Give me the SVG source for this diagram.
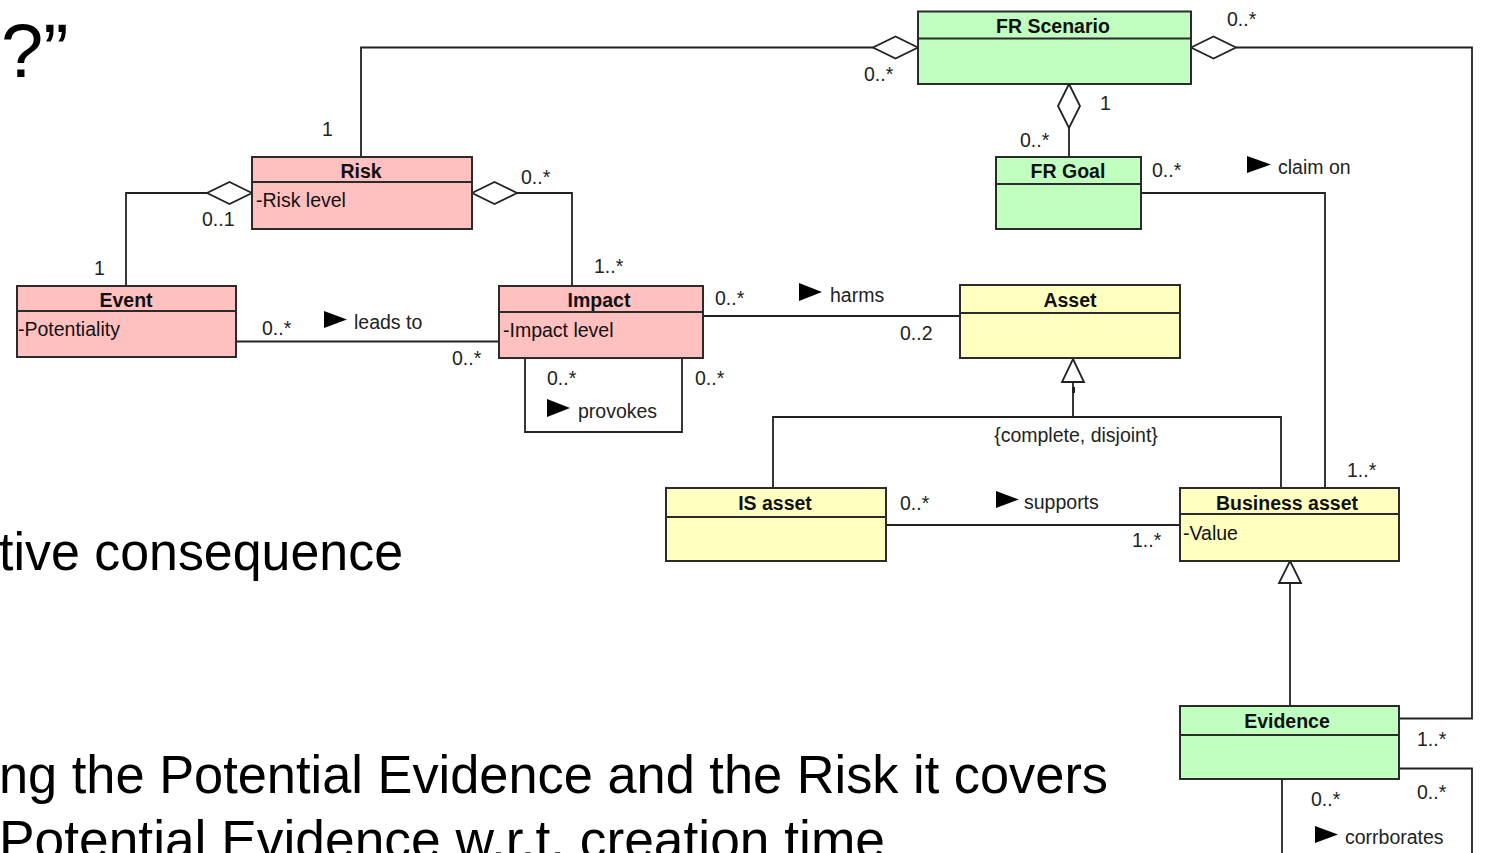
<svg xmlns="http://www.w3.org/2000/svg" width="1486" height="853" viewBox="0 0 1486 853">
  <style>
    .bg { font-family: "Liberation Sans", Arial, sans-serif; fill: #000; }
    .box { stroke: #2b2b2b; stroke-width: 2; }
    .pink { fill: #ffc0c0; }
    .green { fill: #c0ffc0; }
    .yellow { fill: #ffffc0; }
    .div { stroke: #2b2b2b; stroke-width: 2; fill: none; }
    .title { font-family: "Liberation Sans", Arial, sans-serif; font-size: 19.5px; font-weight: bold; fill: #111; text-anchor: middle; }
    .attr { font-family: "Liberation Sans", Arial, sans-serif; font-size: 19.5px; fill: #111; }
    .lbl { font-family: "Liberation Sans", Arial, sans-serif; font-size: 19.5px; fill: #222; }
    .wire { stroke: #222; stroke-width: 1.8; fill: none; }
    .agg { stroke: #222; stroke-width: 1.8; fill: #fff; stroke-linejoin: miter; }
    .gen { stroke: #222; stroke-width: 1.8; fill: #fff; }
    .dir { fill: #000; stroke: none; }
  </style>

  <rect width="1486" height="853" fill="#fff"/>

  <!-- slide text behind the model -->
  <g id="slide-text" class="bg">
    <text x="1" y="77" font-size="76">?”</text>
    <text x="-1" y="570" font-size="54" textLength="404" lengthAdjust="spacingAndGlyphs">tive consequence</text>
    <text x="-1" y="793" font-size="54" textLength="1109" lengthAdjust="spacingAndGlyphs">ng the Potential Evidence and the Risk it covers</text>
    <text x="-1" y="858" font-size="54" textLength="886" lengthAdjust="spacingAndGlyphs">Potential Evidence w.r.t. creation time</text>
  </g>

  <!-- associations, aggregations and generalizations -->
  <g id="connectors">
    <!-- FR Scenario <>- Risk -->
    <polyline class="wire" points="873,47.5 361,47.5 361,157"/>
    <polygon class="agg" points="918,47.5 895.5,36.5 873,47.5 895.5,58.5"/>
    <!-- FR Scenario <>- Evidence -->
    <polyline class="wire" points="1236,47.5 1472,47.5 1472,718.5 1399,718.5"/>
    <polygon class="agg" points="1191,47.5 1213.5,36.5 1236,47.5 1213.5,58.5"/>
    <!-- FR Scenario <>- FR Goal -->
    <line class="wire" x1="1069" y1="128" x2="1069" y2="157"/>
    <polygon class="agg" points="1069,84 1080,106 1069,128 1058,106"/>
    <!-- FR Goal claim on Business asset -->
    <polyline class="wire" points="1141,193 1325,193 1325,488"/>
    <!-- Risk <>- Event -->
    <polyline class="wire" points="207,193 126,193 126,286"/>
    <polygon class="agg" points="252,193 229.5,182 207,193 229.5,204"/>
    <!-- Risk <>- Impact -->
    <polyline class="wire" points="517,193 572,193 572,286"/>
    <polygon class="agg" points="472,193 494.5,182 517,193 494.5,204"/>
    <!-- Event leads to Impact -->
    <line class="wire" x1="236" y1="341.5" x2="499" y2="341.5"/>
    <!-- Impact provokes Impact -->
    <polyline class="wire" points="525,358 525,432 682,432 682,358"/>
    <!-- Impact harms Asset -->
    <line class="wire" x1="703" y1="316" x2="960" y2="316"/>
    <!-- IS asset / Business asset specialise Asset -->
    <line class="wire" x1="1073" y1="382" x2="1073" y2="417"/>
    <line x1="1073.5" y1="387" x2="1073.5" y2="393" stroke="#222" stroke-width="3"/>
    <polyline class="wire" points="773,488 773,417 1281,417 1281,488"/>
    <polygon class="gen" points="1073,359 1084,382 1062,382"/>
    <!-- IS asset supports Business asset -->
    <line class="wire" x1="886" y1="525" x2="1180" y2="525"/>
    <!-- Evidence specialises Business asset -->
    <line class="wire" x1="1290" y1="583" x2="1290" y2="706"/>
    <polygon class="gen" points="1290,561 1301,583 1279,583"/>
    <!-- Evidence corrborates Evidence -->
    <polyline class="wire" points="1399,768.5 1472,768.5 1472,860"/>
    <line class="wire" x1="1282" y1="779" x2="1282" y2="860"/>

    <!-- reading-direction triangles -->
    <polygon class="dir" points="1247,156 1271,164.5 1247,173"/>
    <polygon class="dir" points="324,311 347,319.5 324,328"/>
    <polygon class="dir" points="799,283 822,292 799,301"/>
    <polygon class="dir" points="547,399 570,408 547,417"/>
    <polygon class="dir" points="996,491 1019,499.5 996,508"/>
    <polygon class="dir" points="1315,826 1338,834.5 1315,843"/>

    <!-- names and multiplicities -->
    <g class="lbl">
      <text x="864" y="81">0..*</text>
      <text x="322" y="136">1</text>
      <text x="1227" y="26">0..*</text>
      <text x="1100" y="110">1</text>
      <text x="1020" y="147">0..*</text>
      <text x="1152" y="177">0..*</text>
      <text x="1278" y="174">claim on</text>
      <text x="1347" y="477">1..*</text>
      <text x="202" y="226">0..1</text>
      <text x="521" y="184">0..*</text>
      <text x="94" y="275">1</text>
      <text x="594" y="273">1..*</text>
      <text x="262" y="335">0..*</text>
      <text x="354" y="329">leads to</text>
      <text x="452" y="365">0..*</text>
      <text x="715" y="305">0..*</text>
      <text x="830" y="302">harms</text>
      <text x="900" y="340">0..2</text>
      <text x="547" y="385">0..*</text>
      <text x="578" y="418">provokes</text>
      <text x="695" y="385">0..*</text>
      <text x="1076" y="442" text-anchor="middle">{complete, disjoint}</text>
      <text x="900" y="510">0..*</text>
      <text x="1024" y="509">supports</text>
      <text x="1132" y="547">1..*</text>
      <text x="1417" y="746">1..*</text>
      <text x="1417" y="799">0..*</text>
      <text x="1311" y="806">0..*</text>
      <text x="1345" y="844">corrborates</text>
    </g>
  </g>

  <!-- classes -->
  <g id="fr-scenario">
    <rect class="box green" x="918" y="11.5" width="273" height="72.5"/>
    <line class="div" x1="918" y1="38.5" x2="1191" y2="38.5"/>
    <text class="title" x="1053" y="33">FR Scenario</text>
  </g>
  <g id="fr-goal">
    <rect class="box green" x="996" y="157" width="145" height="72"/>
    <line class="div" x1="996" y1="184" x2="1141" y2="184"/>
    <text class="title" x="1068" y="178">FR Goal</text>
  </g>
  <g id="risk">
    <rect class="box pink" x="252" y="157" width="220" height="72"/>
    <line class="div" x1="252" y1="182" x2="472" y2="182"/>
    <text class="title" x="361" y="178">Risk</text>
    <text class="attr" x="256" y="207">-Risk level</text>
  </g>
  <g id="event">
    <rect class="box pink" x="17" y="286" width="219" height="71"/>
    <line class="div" x1="17" y1="311" x2="236" y2="311"/>
    <text class="title" x="126" y="307">Event</text>
    <text class="attr" x="18" y="336">-Potentiality</text>
  </g>
  <g id="impact">
    <rect class="box pink" x="499" y="286" width="204" height="72"/>
    <line class="div" x1="499" y1="312" x2="703" y2="312"/>
    <text class="title" x="599" y="307">Impact</text>
    <text class="attr" x="503" y="337">-Impact level</text>
  </g>
  <g id="asset">
    <rect class="box yellow" x="960" y="285" width="220" height="73"/>
    <line class="div" x1="960" y1="313" x2="1180" y2="313"/>
    <text class="title" x="1070" y="307">Asset</text>
  </g>
  <g id="is-asset">
    <rect class="box yellow" x="666" y="488" width="220" height="73"/>
    <line class="div" x1="666" y1="517" x2="886" y2="517"/>
    <text class="title" x="775" y="510">IS asset</text>
  </g>
  <g id="business-asset">
    <rect class="box yellow" x="1180" y="488" width="219" height="73"/>
    <line class="div" x1="1180" y1="514" x2="1399" y2="514"/>
    <text class="title" x="1287" y="510">Business asset</text>
    <text class="attr" x="1183" y="540">-Value</text>
  </g>
  <g id="evidence">
    <rect class="box green" x="1180" y="706" width="219" height="73"/>
    <line class="div" x1="1180" y1="735" x2="1399" y2="735"/>
    <text class="title" x="1287" y="728">Evidence</text>
  </g>
</svg>
